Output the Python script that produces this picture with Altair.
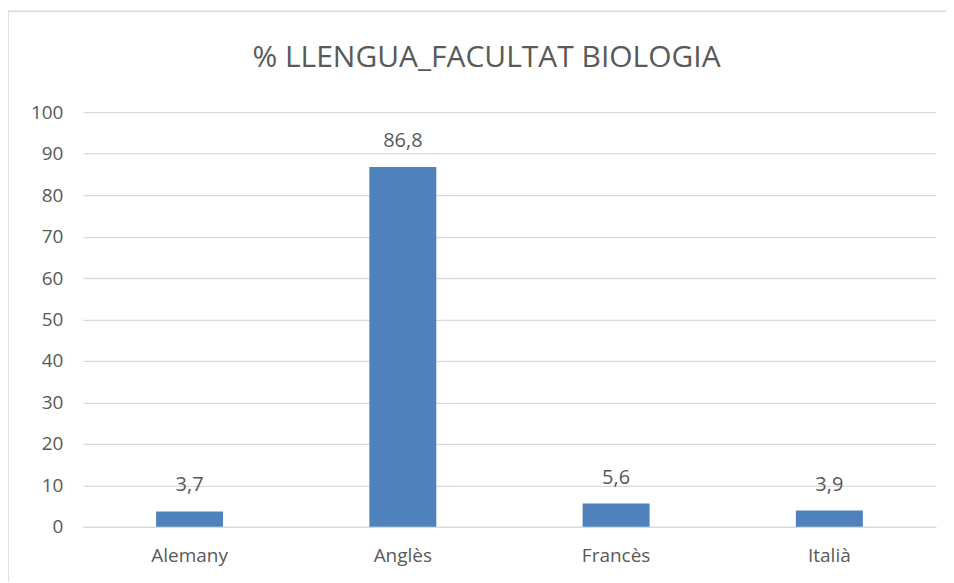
import altair as alt
import pandas as pd

categories = ["Alemany", "Anglès", "Francès", "Italià"]
values = [3.7, 86.8, 5.6, 3.9]
labels = ["3,7", "86,8", "5,6", "3,9"]
title_text = "% LLENGUA_FACULTAT BIOLOGIA"

df = pd.DataFrame({"cat": categories, "val": values, "lab": labels})

FONT = "Liberation Sans Narrow, Open Sans, sans-serif"
GREY = "#595959"

x = alt.X("cat:N", sort=categories, title=None,
          scale=alt.Scale(paddingInner=0.686, paddingOuter=0.343),
          axis=alt.Axis(labelAngle=0, ticks=False, domain=False, labelPadding=20,
                        labelFont=FONT, labelFontSize=19, labelColor=GREY))
y = alt.Y("val:Q", title=None,
          scale=alt.Scale(domain=[0, 100]),
          axis=alt.Axis(values=list(range(0, 101, 10)), ticks=False, domain=False,
                        labelPadding=20, labelFont=FONT, labelFontSize=19,
                        labelColor=GREY, gridColor="#d9d9d9", gridWidth=1.3))

bars = alt.Chart(df).mark_bar(color="#4F81BD").encode(x=x, y=y)
text = alt.Chart(df).mark_text(dy=-26, font=FONT, fontSize=20, color=GREY).encode(
    x=alt.X("cat:N", sort=categories), y="val:Q", text="lab:N")

title = alt.Chart(pd.DataFrame({"t": [title_text]})).mark_text(
    font=FONT, fontSize=30, color=GREY, baseline="middle", align="center").encode(
    x=alt.value(404), y=alt.value(-54), text="t:N")

border_top = alt.Chart(pd.DataFrame({"a": [0]})).mark_rule(color="#d9d9d9", strokeWidth=1.5).encode(
    x=alt.value(-76), x2=alt.value(871), y=alt.value(-101))
border_left = alt.Chart(pd.DataFrame({"a": [0]})).mark_rule(color="#d9d9d9", strokeWidth=1.5).encode(
    x=alt.value(-75), y=alt.value(-101), y2=alt.value(470))

chart = alt.layer(border_top, border_left, bars, text, title).properties(
    width=854, height=415,
    padding={"left": 75, "top": 104, "right": 10, "bottom": 56},
    autosize=alt.AutoSizeParams(type="none"),
).configure_view(stroke=None)

chart.save("out.html", embed_options={"renderer": "svg", "actions": False})
